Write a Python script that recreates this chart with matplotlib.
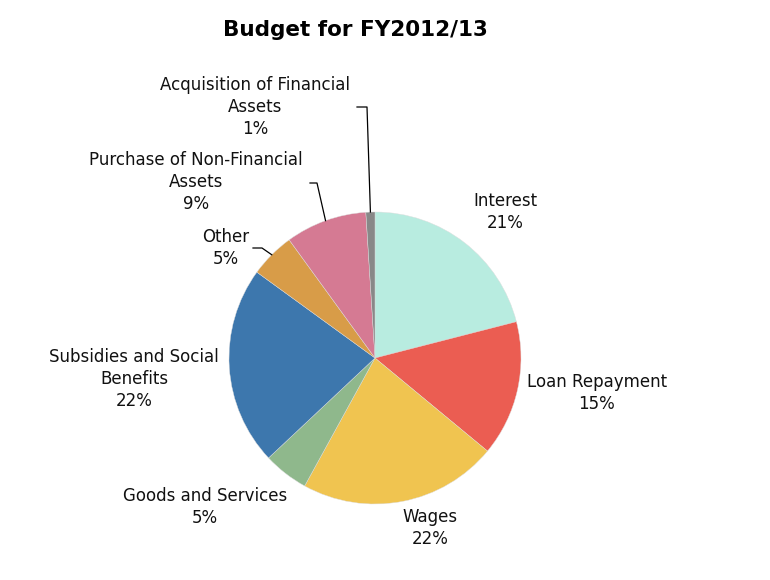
import numpy as np
import matplotlib
matplotlib.use("Agg")
import matplotlib.pyplot as plt

# budget shares, clockwise from 12 o'clock
labels = ["Interest", "Loan Repayment", "Wages", "Goods and Services",
          "Subsidies and Social\nBenefits", "Other",
          "Purchase of Non-Financial\nAssets", "Acquisition of Financial\nAssets"]
shares = [21, 15, 22, 5, 22, 5, 9, 1]
colors = ["#b8ece0", "#eb5d52", "#f0c450", "#8fb88c", "#3d77ad",
          "#d89c48", "#d57a93", "#888888"]

W, H = 770, 580
fig = plt.figure(figsize=(W / 100, H / 100), dpi=100)
ax = fig.add_axes([0, 0, 1, 1])

cx, cy, r = 375, H - 358, 146
wedges, _ = ax.pie(shares, colors=colors, startangle=90, counterclock=False,
                   center=(cx, cy), radius=r, frame=True,
                   wedgeprops=dict(linewidth=0.3, edgecolor="#dddddd"))
ax.set_xlim(0, W)
ax.set_ylim(0, H)
ax.set_aspect("equal")
ax.axis("off")

# label positions in pixels (x, y of text centre)
label_pos = [(505, 212), (597, 393), (430, 528), (205, 507),
             (134, 379), (226, 248), (196, 182), (255, 107)]
# elbow points for leader lines (pixel coords): only small slices
leaders = {5: [(262, 248), (253, 248)],
           6: [(317, 183), (310, 183)],
           7: [(367, 107), (357, 107)]}

for i, (w, lab, s) in enumerate(zip(wedges, labels, shares)):
    px, py = label_pos[i]
    ax.text(px, H - py, f"{lab}\n{s}%", ha="center", va="center",
            fontsize=12, color="#111111", linespacing=1.32,
            family="DejaVu Sans")
    if i in leaders:
        mid = np.deg2rad((w.theta1 + w.theta2) / 2)
        ex, ey = cx + r * np.cos(mid), cy + r * np.sin(mid)
        xs = [ex] + [p[0] for p in leaders[i]]
        ys = [ey] + [H - p[1] for p in leaders[i]]
        ax.plot(xs, ys, color="black", linewidth=0.9)

ax.text(355, H - 30, "Budget for FY2012/13", ha="center", va="center",
        fontsize=15.5, fontweight="bold", family="DejaVu Sans")

fig.savefig("out.png", dpi=100, facecolor="white")
